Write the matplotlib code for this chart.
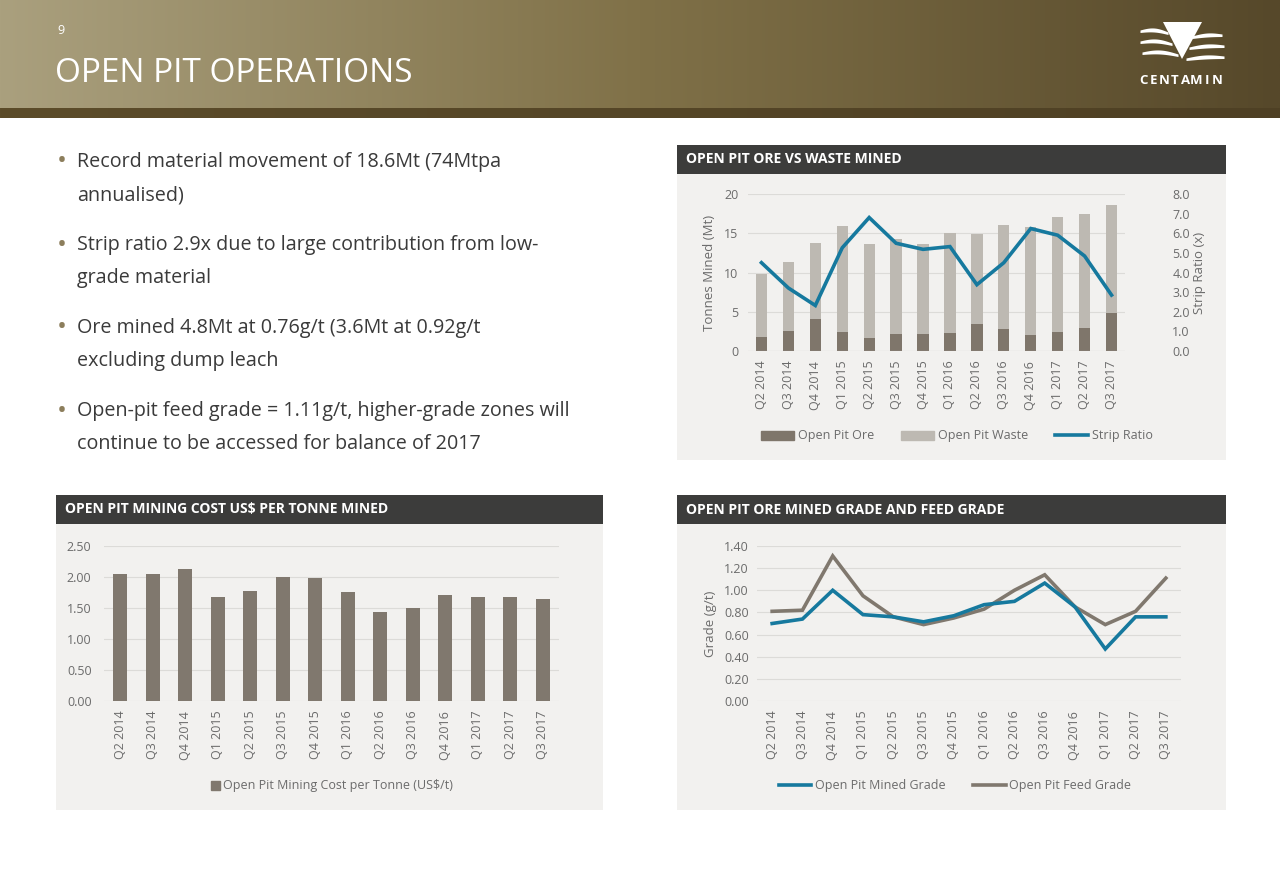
import numpy as np
import matplotlib
matplotlib.use("Agg")
import matplotlib.pyplot as plt
from matplotlib.patches import Rectangle, Polygon
from matplotlib.lines import Line2D

# ---------------- data ----------------
quarters = ["Q2 2014", "Q3 2014", "Q4 2014", "Q1 2015", "Q2 2015", "Q3 2015", "Q4 2015",
            "Q1 2016", "Q2 2016", "Q3 2016", "Q4 2016", "Q1 2017", "Q2 2017", "Q3 2017"]
ore_mt = [1.75, 2.56, 4.06, 2.48, 1.67, 2.14, 2.14, 2.35, 3.38, 2.82, 2.09, 2.39, 2.99, 4.79]
total_mt = [9.83, 11.32, 13.72, 15.94, 13.59, 14.32, 13.68, 15.09, 14.96, 16.11, 15.77, 17.05, 17.39, 18.55]
waste_mt = [t - o for t, o in zip(total_mt, ore_mt)]
strip_ratio = [4.50, 3.21, 2.32, 5.26, 6.80, 5.49, 5.18, 5.32, 3.38, 4.50, 6.24, 5.90, 4.84, 2.85]
cost_per_t = [2.05, 2.05, 2.13, 1.67, 1.77, 2.00, 1.99, 1.76, 1.44, 1.50, 1.71, 1.68, 1.67, 1.64]
mined_grade = [0.70, 0.74, 1.00, 0.78, 0.76, 0.715, 0.77, 0.87, 0.90, 1.065, 0.85, 0.47, 0.76, 0.76]
feed_grade = [0.81, 0.82, 1.31, 0.95, 0.76, 0.69, 0.75, 0.83, 1.00, 1.14, 0.85, 0.69, 0.81, 1.11]

bullets = [
    ["Record material movement of 18.6Mt (74Mtpa", "annualised)"],
    ["Strip ratio 2.9x due to large contribution from low-", "grade material"],
    ["Ore mined 4.8Mt at 0.76g/t (3.6Mt at 0.92g/t", "excluding dump leach"],
    ["Open-pit feed grade = 1.11g/t, higher-grade zones will", "continue to be accessed for balance of 2017"],
]

# ---------------- style ----------------
FONT = ["Open Sans", "DejaVu Sans"]
plt.rcParams['font.family'] = FONT
W, H = 1280, 886
C_ORE = "#7f766b"
C_WASTE = "#bdb9b2"
C_BLUE = "#16799e"
C_GRAY = "#80786e"
C_PANEL = "#f2f1ef"
C_HEAD = "#3c3c3b"
C_TICK = "#6b6b6b"
C_GRID = "#dcdbd8"

fig = plt.figure(figsize=(W / 100, H / 100), dpi=100)
fig.patch.set_facecolor("white")


def px_axes(x0, y0, x1, y1, **kw):
    return fig.add_axes([x0 / W, 1 - y1 / H, (x1 - x0) / W, (y1 - y0) / H], **kw)


def ftext(x, y, s, **kw):
    return fig.text(x / W, 1 - y / H, s, **kw)


# ---------------- header ----------------
hdr = px_axes(0, 0, W, 108)
grad = np.linspace(0, 1, 512)
c_left = np.array([170, 160, 126]) / 255
c_mid = np.array([128, 113, 72]) / 255
c_right = np.array([86, 72, 42]) / 255
cols = np.where(grad[:, None] < 0.5,
                c_left + (c_mid - c_left) * (grad[:, None] / 0.5),
                c_mid + (c_right - c_mid) * ((grad[:, None] - 0.5) / 0.5))
hdr.imshow(cols[None, :, :], aspect="auto", extent=[0, 1, 0, 1])
hdr.set_axis_off()
strip = px_axes(0, 108, W, 118)
s_l = np.array([92, 76, 42]) / 255
s_r = np.array([78, 64, 36]) / 255
scols = s_l + (s_r - s_l) * grad[:, None]
strip.imshow(scols[None, :, :], aspect="auto", extent=[0, 1, 0, 1])
strip.set_axis_off()

ftext(57, 31, "9", color="white", fontsize=9, va="center", ha="left")
ftext(55, 73, "OPEN PIT OPERATIONS", color="white", fontsize=24, va="center", ha="left")

# logo
lg = px_axes(1130, 15, 1235, 95)
lg.set_xlim(1130, 1235)
lg.set_ylim(95, 15)
lg.set_axis_off()
lg.add_patch(Polygon([[1163, 22], [1202, 22], [1182, 59]], closed=True, color="white", lw=0))
for (xa, xb, yc) in [(1140, 1168, 30), (1140, 1172, 41), (1142, 1178, 52)]:
    xs = np.linspace(xa, xb, 30)
    t = (xs - xa) / (xb - xa)
    top = yc - 3 * np.sin(np.pi * t) + 2 * t
    bot = top + 2.5 + 1.5 * np.sin(np.pi * t)
    lg.fill_between(xs, top, bot, color="white", lw=0)
for (xa, xb, yc) in [(1192, 1222, 36), (1189, 1224, 47), (1186, 1224, 58)]:
    xs = np.linspace(xa, xb, 30)
    t = (xs - xa) / (xb - xa)
    top = yc - 2 * np.sin(np.pi * t) - 2 * t
    bot = top + 2.5 + 1.5 * np.sin(np.pi * t)
    lg.fill_between(xs, top, bot, color="white", lw=0)
for i, ch in enumerate("CENTAMIN"):
    lg.text(1143 + i * 10.6, 81, ch, color="white", fontsize=9.5, fontweight="bold",
            ha="center", va="center")

# ---------------- bullets ----------------
y0 = 162
for b in bullets:
    ftext(57, y0, "\u2022", color="#8c7e5c", fontsize=19, va="center", ha="left")
    ftext(77, y0, b[0], color="#3a3a3a", fontsize=14.2, va="center", ha="left")
    ftext(77, y0 + 33, b[1], color="#3a3a3a", fontsize=14.2, va="center", ha="left")
    y0 += 83


# ---------------- panels ----------------
def panel(x0, y0, x1, y1, title):
    bg = px_axes(x0, y0, x1, y1)
    bg.set_xlim(0, 1)
    bg.set_ylim(0, 1)
    bg.set_axis_off()
    bg.add_patch(Rectangle((0, 0), 1, 1, color=C_PANEL, lw=0))
    hh = 29 / (y1 - y0)
    bg.add_patch(Rectangle((0, 1 - hh), 1, hh, color=C_HEAD, lw=0))
    ftext(x0 + 9, y0 + 14.5, title, color="white", fontsize=10, fontweight="bold",
          va="center", ha="left")


panel(677, 145, 1226, 460, "OPEN PIT ORE VS WASTE MINED")
panel(56, 495, 603, 810, "OPEN PIT MINING COST US$ PER TONNE MINED")
panel(677, 495, 1226, 810, "OPEN PIT ORE MINED GRADE AND FEED GRADE")


def style_axes(ax, pad_y=7):
    ax.set_facecolor("none")
    for s in ax.spines.values():
        s.set_visible(False)
    ax.tick_params(axis="both", length=0, colors=C_TICK, labelsize=9)
    ax.tick_params(axis="y", pad=pad_y)
    ax.tick_params(axis="x", pad=7)
    ax.grid(axis="y", color=C_GRID, lw=0.8)
    ax.set_axisbelow(True)
    ax.set_xlim(-0.5, len(quarters) - 0.5)
    ax.set_xticks(range(len(quarters)))
    ax.set_xticklabels(quarters, rotation=90)


x = np.arange(len(quarters))

# ---- top right: ore vs waste ----
ax1 = px_axes(748, 194, 1125, 351)
style_axes(ax1)
ax1.bar(x, ore_mt, width=0.42, color=C_ORE, label="Open Pit Ore", zorder=2)
ax1.bar(x, waste_mt, width=0.42, bottom=ore_mt, color=C_WASTE, label="Open Pit Waste", zorder=2)
ax1.set_ylim(0, 20)
ax1.set_yticks([0, 5, 10, 15, 20])
ax1.axhline(0, color="#d0cfcc", lw=0.8)
ax1.set_ylabel("Tonnes Mined (Mt)", color=C_TICK, fontsize=9.5, labelpad=6)
ax2 = ax1.twinx()
ax2.set_facecolor("none")
for s in ax2.spines.values():
    s.set_visible(False)
ax2.plot(x, strip_ratio, color=C_BLUE, lw=2.6, label="Strip Ratio", zorder=3,
         solid_joinstyle="miter")
ax2.set_ylim(0, 8)
ax2.set_yticks(np.arange(0, 8.1, 1.0))
ax2.set_yticklabels([f"{v:.1f}" for v in np.arange(0, 8.1, 1.0)])
ax2.tick_params(axis="y", length=0, colors=C_TICK, labelsize=9, pad=34)
ax2.set_ylabel("Strip Ratio (x)", color=C_TICK, fontsize=9.5, labelpad=2)
h = [Rectangle((0, 0), 1, 1, color=C_ORE), Rectangle((0, 0), 1, 1, color=C_WASTE),
     Line2D([], [], color=C_BLUE, lw=2.6)]
fig.legend(h, ["Open Pit Ore", "Open Pit Waste", "Strip Ratio"], loc="center",
           bbox_to_anchor=(957 / W, 1 - 436 / H), ncol=3, frameon=False, fontsize=9,
           handlelength=2.6, handleheight=0.7, columnspacing=2.2, handletextpad=0.3,
           labelcolor=C_TICK)

# ---- bottom left: cost per tonne ----
ax3 = px_axes(104, 546, 559, 701)
style_axes(ax3, pad_y=9)
ax3.bar(x, cost_per_t, width=0.43, color=C_GRAY, zorder=2)
ax3.set_ylim(0, 2.5)
ax3.set_yticks(np.arange(0, 2.51, 0.5))
ax3.set_yticklabels([f"{v:.2f}" for v in np.arange(0, 2.51, 0.5)])
fig.legend([Rectangle((0, 0), 1, 1, color=C_GRAY)], ["Open Pit Mining Cost per Tonne (US$/t)"],
           loc="center", bbox_to_anchor=(332 / W, 1 - 786 / H), frameon=False, fontsize=9,
           handlelength=0.7, handleheight=0.7, handletextpad=0.3, labelcolor=C_TICK)

# ---- bottom right: grades ----
ax4 = px_axes(757, 546, 1181, 701)
style_axes(ax4, pad_y=6)
ax4.plot(x, mined_grade, color=C_BLUE, lw=2.6, zorder=3, solid_joinstyle="miter")
ax4.plot(x, feed_grade, color=C_GRAY, lw=2.6, zorder=2, solid_joinstyle="miter")
ax4.set_ylim(0, 1.4)
ax4.set_yticks(np.arange(0, 1.41, 0.2))
ax4.set_yticklabels([f"{v:.2f}" for v in np.arange(0, 1.41, 0.2)])
ax4.set_ylabel("Grade (g/t)", color=C_TICK, fontsize=9.5, labelpad=5)
fig.legend([Line2D([], [], color=C_BLUE, lw=2.6), Line2D([], [], color=C_GRAY, lw=2.6)],
           ["Open Pit Mined Grade", "Open Pit Feed Grade"], loc="center",
           bbox_to_anchor=(955 / W, 1 - 786 / H), ncol=2, frameon=False, fontsize=9,
           handlelength=2.6, columnspacing=2.2, handletextpad=0.3, labelcolor=C_TICK)

fig.savefig("out.png", dpi=100, facecolor="white")
